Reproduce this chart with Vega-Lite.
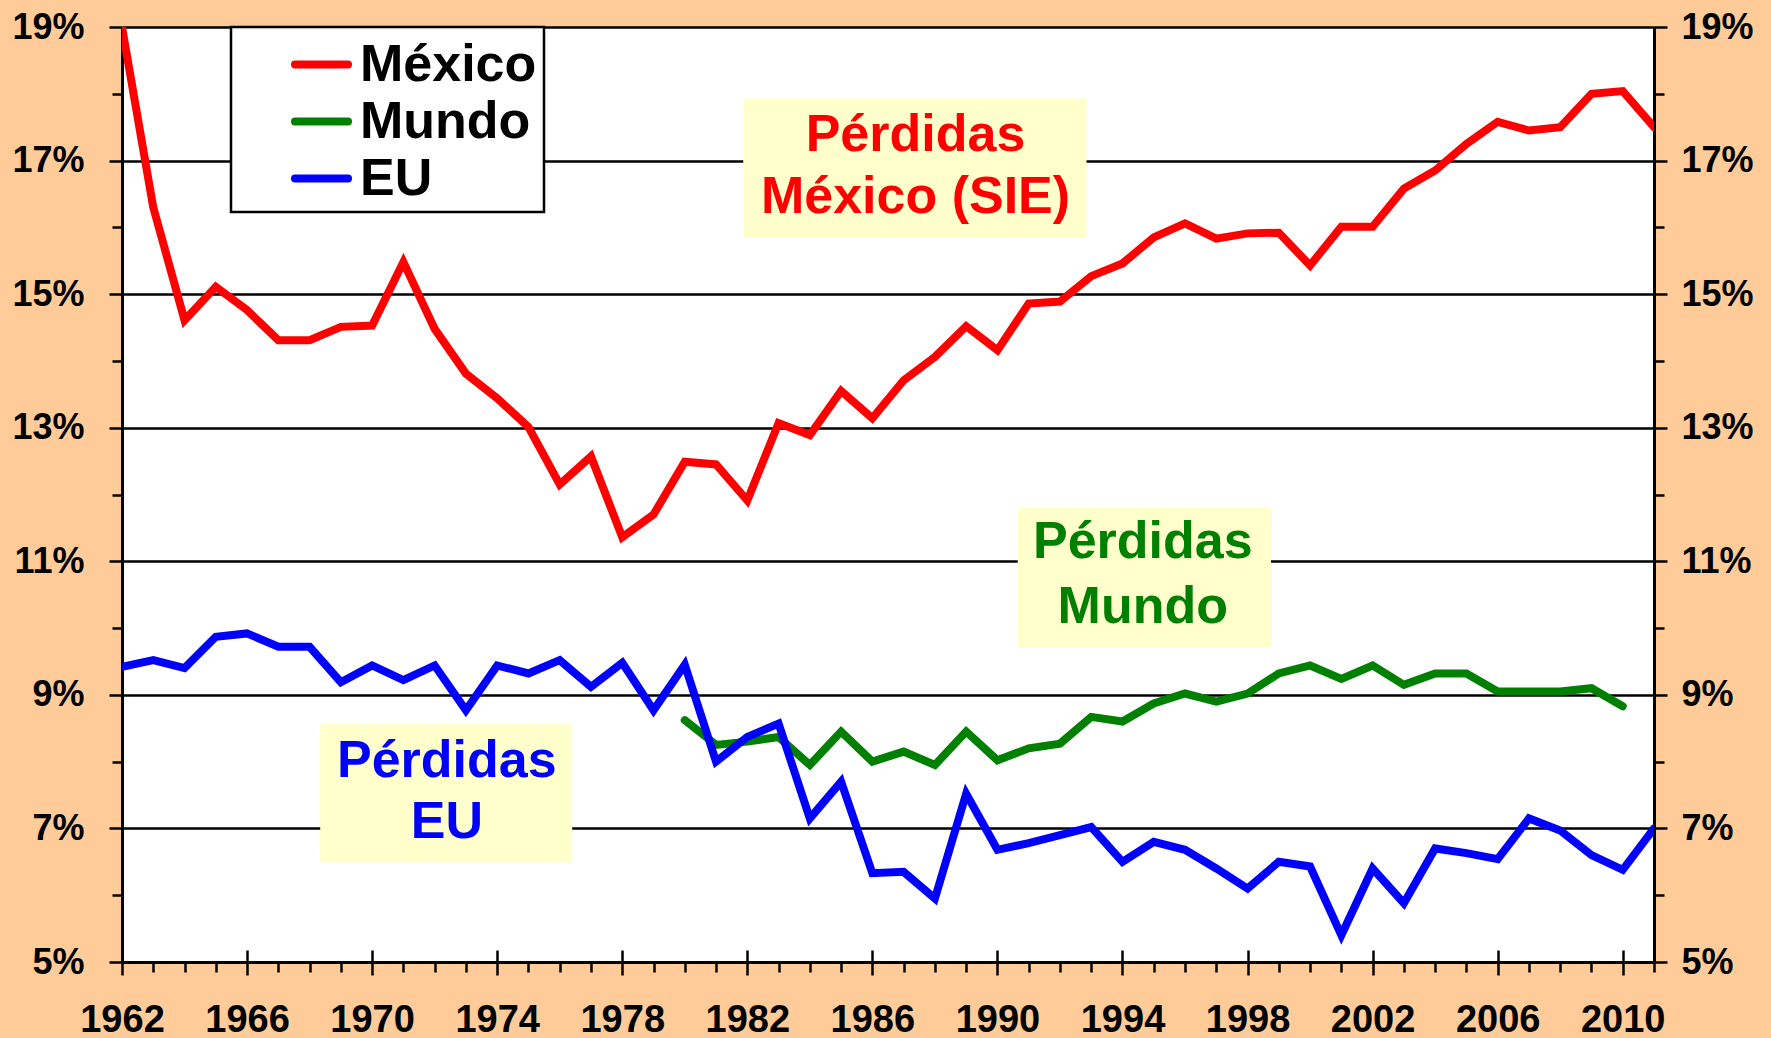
{
  "$schema": "https://vega.github.io/schema/vega-lite/v6.json",
  "width": 1532,
  "height": 935,
  "autosize": {"type": "none"},
  "padding": {"left": 122, "top": 27, "right": 117, "bottom": 76},
  "background": "#FFCC99",
  "view": {"fill": "white", "stroke": null},
  "config": {
    "font": "Liberation Sans",
    "axis": {"labelFont": "Liberation Sans", "labelFontWeight": "bold", "labelColor": "black", "tickColor": "black", "domainColor": "black", "gridColor": "black"}
  },
  "datasets": {
    "series": [
      {"year": 1962, "serie": "México", "value": 19.0},
      {"year": 1963, "serie": "México", "value": 16.3},
      {"year": 1964, "serie": "México", "value": 14.61},
      {"year": 1965, "serie": "México", "value": 15.11},
      {"year": 1966, "serie": "México", "value": 14.76},
      {"year": 1967, "serie": "México", "value": 14.31},
      {"year": 1968, "serie": "México", "value": 14.31},
      {"year": 1969, "serie": "México", "value": 14.51},
      {"year": 1970, "serie": "México", "value": 14.53},
      {"year": 1971, "serie": "México", "value": 15.48},
      {"year": 1972, "serie": "México", "value": 14.48},
      {"year": 1973, "serie": "México", "value": 13.81},
      {"year": 1974, "serie": "México", "value": 13.44},
      {"year": 1975, "serie": "México", "value": 13.01},
      {"year": 1976, "serie": "México", "value": 12.15},
      {"year": 1977, "serie": "México", "value": 12.57},
      {"year": 1978, "serie": "México", "value": 11.36},
      {"year": 1979, "serie": "México", "value": 11.70},
      {"year": 1980, "serie": "México", "value": 12.49},
      {"year": 1981, "serie": "México", "value": 12.45},
      {"year": 1982, "serie": "México", "value": 11.91},
      {"year": 1983, "serie": "México", "value": 13.07},
      {"year": 1984, "serie": "México", "value": 12.89},
      {"year": 1985, "serie": "México", "value": 13.55},
      {"year": 1986, "serie": "México", "value": 13.14},
      {"year": 1987, "serie": "México", "value": 13.71},
      {"year": 1988, "serie": "México", "value": 14.06},
      {"year": 1989, "serie": "México", "value": 14.52},
      {"year": 1990, "serie": "México", "value": 14.16},
      {"year": 1991, "serie": "México", "value": 14.86},
      {"year": 1992, "serie": "México", "value": 14.89},
      {"year": 1993, "serie": "México", "value": 15.27},
      {"year": 1994, "serie": "México", "value": 15.46},
      {"year": 1995, "serie": "México", "value": 15.85},
      {"year": 1996, "serie": "México", "value": 16.06},
      {"year": 1997, "serie": "México", "value": 15.83},
      {"year": 1998, "serie": "México", "value": 15.91},
      {"year": 1999, "serie": "México", "value": 15.92},
      {"year": 2000, "serie": "México", "value": 15.43},
      {"year": 2001, "serie": "México", "value": 16.01},
      {"year": 2002, "serie": "México", "value": 16.01},
      {"year": 2003, "serie": "México", "value": 16.58},
      {"year": 2004, "serie": "México", "value": 16.85},
      {"year": 2005, "serie": "México", "value": 17.25},
      {"year": 2006, "serie": "México", "value": 17.58},
      {"year": 2007, "serie": "México", "value": 17.45},
      {"year": 2008, "serie": "México", "value": 17.50},
      {"year": 2009, "serie": "México", "value": 18.0},
      {"year": 2010, "serie": "México", "value": 18.04},
      {"year": 2011, "serie": "México", "value": 17.50},
      {"year": 1980, "serie": "Mundo", "value": 8.62},
      {"year": 1981, "serie": "Mundo", "value": 8.25},
      {"year": 1982, "serie": "Mundo", "value": 8.30},
      {"year": 1983, "serie": "Mundo", "value": 8.37},
      {"year": 1984, "serie": "Mundo", "value": 7.95},
      {"year": 1985, "serie": "Mundo", "value": 8.45},
      {"year": 1986, "serie": "Mundo", "value": 8.0},
      {"year": 1987, "serie": "Mundo", "value": 8.15},
      {"year": 1988, "serie": "Mundo", "value": 7.95},
      {"year": 1989, "serie": "Mundo", "value": 8.45},
      {"year": 1990, "serie": "Mundo", "value": 8.02},
      {"year": 1991, "serie": "Mundo", "value": 8.20},
      {"year": 1992, "serie": "Mundo", "value": 8.27},
      {"year": 1993, "serie": "Mundo", "value": 8.67},
      {"year": 1994, "serie": "Mundo", "value": 8.60},
      {"year": 1995, "serie": "Mundo", "value": 8.87},
      {"year": 1996, "serie": "Mundo", "value": 9.02},
      {"year": 1997, "serie": "Mundo", "value": 8.90},
      {"year": 1998, "serie": "Mundo", "value": 9.02},
      {"year": 1999, "serie": "Mundo", "value": 9.32},
      {"year": 2000, "serie": "Mundo", "value": 9.44},
      {"year": 2001, "serie": "Mundo", "value": 9.24},
      {"year": 2002, "serie": "Mundo", "value": 9.44},
      {"year": 2003, "serie": "Mundo", "value": 9.15},
      {"year": 2004, "serie": "Mundo", "value": 9.32},
      {"year": 2005, "serie": "Mundo", "value": 9.32},
      {"year": 2006, "serie": "Mundo", "value": 9.05},
      {"year": 2007, "serie": "Mundo", "value": 9.05},
      {"year": 2008, "serie": "Mundo", "value": 9.05},
      {"year": 2009, "serie": "Mundo", "value": 9.10},
      {"year": 2010, "serie": "Mundo", "value": 8.83},
      {"year": 1962, "serie": "EU", "value": 9.42},
      {"year": 1963, "serie": "EU", "value": 9.52},
      {"year": 1964, "serie": "EU", "value": 9.40},
      {"year": 1965, "serie": "EU", "value": 9.87},
      {"year": 1966, "serie": "EU", "value": 9.92},
      {"year": 1967, "serie": "EU", "value": 9.72},
      {"year": 1968, "serie": "EU", "value": 9.72},
      {"year": 1969, "serie": "EU", "value": 9.19},
      {"year": 1970, "serie": "EU", "value": 9.44},
      {"year": 1971, "serie": "EU", "value": 9.22},
      {"year": 1972, "serie": "EU", "value": 9.44},
      {"year": 1973, "serie": "EU", "value": 8.77},
      {"year": 1974, "serie": "EU", "value": 9.44},
      {"year": 1975, "serie": "EU", "value": 9.32},
      {"year": 1976, "serie": "EU", "value": 9.52},
      {"year": 1977, "serie": "EU", "value": 9.12},
      {"year": 1978, "serie": "EU", "value": 9.48},
      {"year": 1979, "serie": "EU", "value": 8.77},
      {"year": 1980, "serie": "EU", "value": 9.45},
      {"year": 1981, "serie": "EU", "value": 8.0},
      {"year": 1982, "serie": "EU", "value": 8.37},
      {"year": 1983, "serie": "EU", "value": 8.57},
      {"year": 1984, "serie": "EU", "value": 7.15},
      {"year": 1985, "serie": "EU", "value": 7.70},
      {"year": 1986, "serie": "EU", "value": 6.33},
      {"year": 1987, "serie": "EU", "value": 6.35},
      {"year": 1988, "serie": "EU", "value": 5.95},
      {"year": 1989, "serie": "EU", "value": 7.52},
      {"year": 1990, "serie": "EU", "value": 6.68},
      {"year": 1991, "serie": "EU", "value": 6.78},
      {"year": 1992, "serie": "EU", "value": 6.90},
      {"year": 1993, "serie": "EU", "value": 7.02},
      {"year": 1994, "serie": "EU", "value": 6.50},
      {"year": 1995, "serie": "EU", "value": 6.80},
      {"year": 1996, "serie": "EU", "value": 6.68},
      {"year": 1997, "serie": "EU", "value": 6.40},
      {"year": 1998, "serie": "EU", "value": 6.10},
      {"year": 1999, "serie": "EU", "value": 6.50},
      {"year": 2000, "serie": "EU", "value": 6.43},
      {"year": 2001, "serie": "EU", "value": 5.40},
      {"year": 2002, "serie": "EU", "value": 6.40},
      {"year": 2003, "serie": "EU", "value": 5.88},
      {"year": 2004, "serie": "EU", "value": 6.70},
      {"year": 2005, "serie": "EU", "value": 6.63},
      {"year": 2006, "serie": "EU", "value": 6.54},
      {"year": 2007, "serie": "EU", "value": 7.15},
      {"year": 2008, "serie": "EU", "value": 6.97},
      {"year": 2009, "serie": "EU", "value": 6.60},
      {"year": 2010, "serie": "EU", "value": 6.38},
      {"year": 2011, "serie": "EU", "value": 7.0}
    ],
    "boxes": [
      {"serie": "México", "x1": 1981.87, "x2": 1992.85, "y1": 17.93, "y2": 15.85},
      {"serie": "Mundo", "x1": 1990.65, "x2": 1998.75, "y1": 11.80, "y2": 9.71},
      {"serie": "EU", "x1": 1968.34, "x2": 1976.40, "y1": 8.57, "y2": 6.49}
    ],
    "notes": [
      {"serie": "México", "x": 1987.38, "y": 17.14, "label": "Pérdidas"},
      {"serie": "México", "x": 1987.38, "y": 16.21, "label": "México (SIE)"},
      {"serie": "Mundo", "x": 1994.65, "y": 11.05, "label": "Pérdidas"},
      {"serie": "Mundo", "x": 1994.65, "y": 10.07, "label": "Mundo"},
      {"serie": "EU", "x": 1972.39, "y": 7.77, "label": "Pérdidas"},
      {"serie": "EU", "x": 1972.39, "y": 6.855, "label": "EU"}
    ]
  },
  "layer": [
    {
      "data": {"name": "boxes"},
      "mark": {"type": "rect", "color": "#FFFFCC"},
      "encoding": {
        "x": {
          "field": "x1", "type": "quantitative",
          "scale": {"domain": [1962, 2011], "nice": false, "zero": false},
          "axis": {
            "orient": "bottom", "title": null, "grid": false,
            "values": [1962,1963,1964,1965,1966,1967,1968,1969,1970,1971,1972,1973,1974,1975,1976,1977,1978,1979,1980,1981,1982,1983,1984,1985,1986,1987,1988,1989,1990,1991,1992,1993,1994,1995,1996,1997,1998,1999,2000,2001,2002,2003,2004,2005,2006,2007,2008,2009,2010,2011],
            "format": "d",
            "labelExpr": "(datum.value - 1962) % 4 == 0 ? datum.label : ''",
            "tickSize": {"condition": {"test": "(datum.value - 1962) % 4 == 0", "value": 13}, "value": 10},
            "tickWidth": 2.5,
            "domainWidth": 3,
            "labelFontSize": 38,
            "labelPadding": 26,
            "labelOverlap": false,
            "labelFlush": false
          }
        },
        "x2": {"field": "x2"},
        "y": {
          "field": "y1", "type": "quantitative",
          "scale": {"domain": [5, 19], "nice": false, "zero": false},
          "axis": {
            "orient": "left", "title": null,
            "values": [5,6,7,8,9,10,11,12,13,14,15,16,17,18,19],
            "labelExpr": "datum.value % 2 == 1 ? datum.value + '%' : ''",
            "tickSize": {"condition": {"test": "datum.value % 2 == 1", "value": 13}, "value": 10},
            "tickWidth": 2.5,
            "grid": true,
            "gridWidth": 2.5,
            "gridOpacity": {"condition": {"test": "datum.value % 2 == 1", "value": 1}, "value": 0},
            "domainWidth": 3,
            "labelFontSize": 36,
            "labelPadding": 25,
            "labelOverlap": false,
            "labelFlush": false
          }
        },
        "y2": {"field": "y2"}
      }
    },
    {
      "data": {"name": "notes"},
      "mark": {"type": "text", "font": "Liberation Sans", "fontWeight": "bold", "fontSize": 52, "align": "center", "baseline": "alphabetic"},
      "encoding": {
        "x": {
          "field": "x", "type": "quantitative",
          "scale": {"domain": [1962, 2011], "nice": false, "zero": false},
          "axis": {
            "orient": "bottom", "title": null, "grid": false, "labels": false, "domain": false,
            "values": [1962,1966,1970,1974,1978,1982,1986,1990,1994,1998,2002,2006,2010],
            "tickSize": -12, "tickWidth": 2.5
          }
        },
        "y": {
          "field": "y", "type": "quantitative",
          "scale": {"domain": [5, 19], "nice": false, "zero": false},
          "axis": {
            "orient": "right", "title": null, "grid": false,
            "values": [5,6,7,8,9,10,11,12,13,14,15,16,17,18,19],
            "labelExpr": "datum.value % 2 == 1 ? datum.value + '%' : ''",
            "tickSize": {"condition": {"test": "datum.value % 2 == 1", "value": 13}, "value": 10},
            "tickWidth": 2.5,
            "domainWidth": 3,
            "labelFontSize": 36,
            "labelPadding": 14,
            "labelOverlap": false,
            "labelFlush": false
          }
        },
        "text": {"field": "label"},
        "color": {
          "field": "serie", "type": "nominal",
          "scale": {"domain": ["México", "Mundo", "EU"], "range": ["#FF0000", "#008000", "#0000FF"]},
          "legend": null
        }
      }
    },
    {
      "data": {"name": "series"},
      "mark": {"type": "line", "strokeWidth": 8, "strokeCap": "round", "clip": true},
      "encoding": {
        "x": {"field": "year", "type": "quantitative", "scale": {"domain": [1962, 2011], "nice": false, "zero": false}, "axis": null},
        "y": {"field": "value", "type": "quantitative", "scale": {"domain": [5, 19], "nice": false, "zero": false}, "axis": null},
        "color": {
          "field": "serie", "type": "nominal",
          "scale": {"domain": ["México", "Mundo", "EU"], "range": ["#FF0000", "#008000", "#0000FF"]},
          "legend": {
            "orient": "none", "legendX": 109, "legendY": 0, "title": null,
            "symbolType": "M-1,0L1,0", "symbolStrokeWidth": 8, "symbolSize": 2809,
            "labelFont": "Liberation Sans", "labelFontWeight": "bold", "labelFontSize": 52, "labelColor": "black", "labelLimit": 500,
            "padding": 7, "symbolOffset": 53, "labelOffset": 8, "rowPadding": 0,
            "strokeColor": "black", "fillColor": "white",
            "encode": {
              "legend": {"update": {"strokeWidth": {"value": 2.5}}},
              "symbols": {"update": {"strokeCap": {"value": "round"}}}
            }
          }
        }
      }
    }
  ],
  "resolve": {"axis": {"x": "independent", "y": "independent"}, "scale": {"color": "independent"}}
}
